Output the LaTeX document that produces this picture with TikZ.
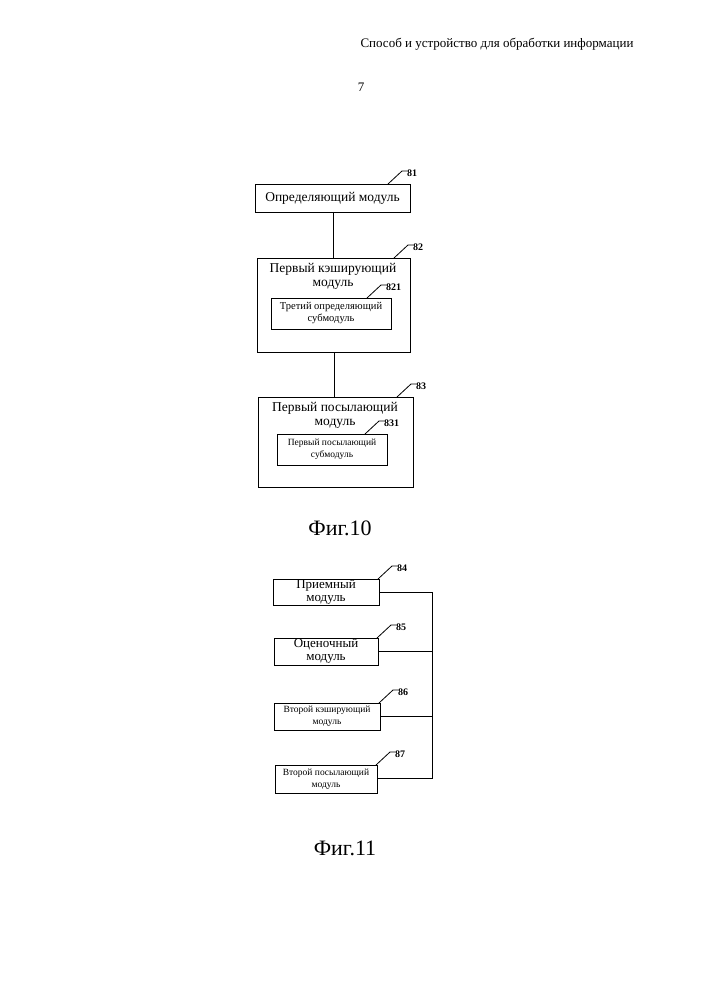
\documentclass[tikz,border=0pt]{standalone}
\usepackage{fontspec}
\setmainfont{Liberation Serif}
\begin{document}
\begin{tikzpicture}[x=1pt,y=-1pt,
 box/.style={draw,line width=0.9pt,inner sep=0pt},
 ln/.style={line width=0.9pt},
 ref/.style={font=\fontsize{10}{11}\bfseries\selectfont,anchor=west,inner sep=1pt},
 t13/.style={font=\fontsize{13.5}{14}\selectfont,align=center},
 t11/.style={font=\fontsize{10.5}{12}\selectfont,align=center}]
\useasboundingbox (0,0) rectangle (707,1000);
\node[font=\fontsize{13}{14}\selectfont] (hdr) at (497,44) {Способ и устройство для обработки информации};
\node[font=\fontsize{13}{14}\selectfont] (pg) at (361,87) {7};
% Fig 10
\draw[box] (255,184) rectangle (410,212); \node[t13] (b81) at (332.5,198) {Определяющий модуль};
\draw[box] (257,258) rectangle (410,352); \node[t13,inner sep=0pt] (b82) at (333,276) {Первый кэширующий\\модуль};
\draw[box] (271,298) rectangle (391,329); \node[t11] (b821) at (331,313.5) {Третий определяющий\\субмодуль};
\draw[box] (258,397) rectangle (413,487); \node[t13,inner sep=0pt] (b83) at (335,415) {Первый посылающий\\модуль};
\draw[box] (277,434) rectangle (387,465); \node[t11,font=\fontsize{9.5}{11.5}\selectfont] (b831) at (332,449.5) {Первый посылающий\\субмодуль};
\coordinate (c1) at (333,212); \coordinate (c2) at (333,258);
\draw[ln] (c1) -- (c2);
\coordinate (c3) at (334,352); \coordinate (c4) at (334,397);
\draw[ln] (c3) -- (c4);
\foreach \n/\x/\y in {81/388/184, 82/394/258, 821/367/298, 83/397/397, 831/365/434}{
  \coordinate (s\n) at (\x,\y);
  \coordinate (e\n) at (\x+14,\y-13);
  \draw[line width=0.8pt] (s\n) -- (e\n) -- ++(5,0);
  \node[ref] (l\n) at (\x+18,\y-11) {\n};
}
\node[font=\fontsize{22}{24}\selectfont] (f10) at (340,528) {Фиг.10};
% Fig 11
\draw[box] (273,579) rectangle (379,605); \node[t13,inner sep=0pt,font=\fontsize{13}{13}\selectfont] (b84) at (326,592) {Приемный\\модуль};
\draw[box] (274,638) rectangle (378,665); \node[t13,inner sep=0pt,font=\fontsize{13}{13}\selectfont] (b85) at (326,651) {Оценочный\\модуль};
\draw[box] (274,703) rectangle (380,730); \node[t11,inner sep=0pt,font=\fontsize{9.5}{12}\selectfont] (b86) at (327,716.5) {Второй кэширующий\\модуль};
\draw[box] (275,765) rectangle (377,793); \node[t11,inner sep=0pt,font=\fontsize{9.5}{12}\selectfont] (b87) at (326,779) {Второй посылающий\\модуль};
\foreach \n/\x/\y in {84/378/579, 85/377/638, 86/379/703, 87/376/765}{
  \coordinate (s\n) at (\x,\y);
  \coordinate (e\n) at (\x+14,\y-13);
  \draw[line width=0.8pt] (s\n) -- (e\n) -- ++(5,0);
  \node[ref] (l\n) at (\x+18,\y-11) {\n};
}
\coordinate (r84) at (379,592); \coordinate (r85) at (378,651);
\coordinate (r86) at (380,716); \coordinate (r87) at (377,778);
\coordinate (bt) at (432,592); \coordinate (bb) at (432,778);
\draw[ln] (r84) -- (bt) -- (bb) -- (r87);
\draw[ln] (r85) -- (432,651);
\draw[ln] (r86) -- (432,716);
\node[font=\fontsize{22}{24}\selectfont] (f11) at (345,848) {Фиг.11};
\end{tikzpicture}
\end{document}
